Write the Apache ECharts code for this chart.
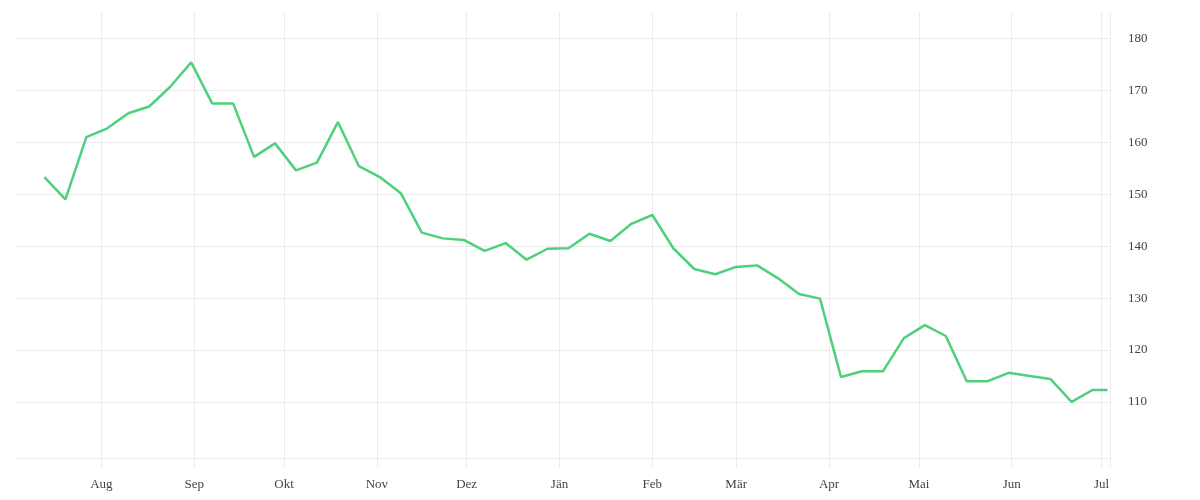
<!DOCTYPE html>
<html>
<head>
<meta charset="utf-8">
<script src="https://cdn.jsdelivr.net/npm/echarts@6/dist/echarts.min.js"></script>
<style>
html,body{margin:0;padding:0;background:#fff;}
#chart{width:1200px;height:500px;}
</style>
</head>
<body>
<div id="chart"></div>
<script>
const dates = [
  '2022-07-13','2022-07-20','2022-07-27','2022-08-03','2022-08-10','2022-08-17','2022-08-24','2022-08-31',
  '2022-09-07','2022-09-14','2022-09-21','2022-09-28','2022-10-05','2022-10-12','2022-10-19','2022-10-26',
  '2022-11-02','2022-11-09','2022-11-16','2022-11-23','2022-11-30','2022-12-07','2022-12-14','2022-12-21',
  '2022-12-28','2023-01-04','2023-01-11','2023-01-18','2023-01-25','2023-02-01','2023-02-08','2023-02-15',
  '2023-02-22','2023-03-01','2023-03-08','2023-03-15','2023-03-22','2023-03-29','2023-04-05','2023-04-12',
  '2023-04-19','2023-04-26','2023-05-03','2023-05-10','2023-05-17','2023-05-24','2023-05-31','2023-06-07',
  '2023-06-14','2023-06-21','2023-06-28','2023-07-03'
];
const values = [
  153.3,149.0,161.0,162.7,165.6,166.9,170.7,175.4,
  167.5,167.5,157.2,159.8,154.6,156.1,163.9,155.4,
  153.3,150.2,142.6,141.5,141.2,139.1,140.6,137.4,
  139.5,139.6,142.4,141.0,144.3,146.0,139.6,135.6,
  134.6,136.0,136.3,133.8,130.8,129.9,114.8,115.9,
  115.9,122.3,124.8,122.7,114.0,114.0,115.6,115.0,
  114.4,110.0,112.3,112.3
];
const monthTicks = [
  '2022-08-01','2022-09-01','2022-10-01','2022-11-01','2022-12-01','2023-01-01',
  '2023-02-01','2023-03-01','2023-04-01','2023-05-01','2023-06-01','2023-07-01'
];
const monthNames = ['Jän','Feb','Mär','Apr','Mai','Jun','Jul','Aug','Sep','Okt','Nov','Dez'];
const yTicks = [110,120,130,140,150,160,170,180];

function parseLocal(s){
  const p = s.split('-').map(Number);
  return new Date(p[0], p[1]-1, p[2]).getTime();
}
const xMin = new Date(2022,6,3,12).getTime();
const xMax = new Date(2023,6,3,20).getTime();
const monthVals = monthTicks.map(parseLocal);
const seriesData = dates.map((d,i)=>[parseLocal(d), values[i]]);

const gridColor = '#ebebeb';
const labelFont = {fontFamily:'Liberation Serif', fontSize:13, color:'#444'};

const chart = echarts.init(document.getElementById('chart'), null, {renderer:'canvas'});
chart.setOption({
  animation:false,
  backgroundColor:'#fff',
  grid:{left:16, right:90, top:12, bottom:42, containLabel:false},
  xAxis:{
    type:'value',
    min:xMin, max:xMax,
    axisLine:{show:true, lineStyle:{color:gridColor, width:1}},
    axisTick:{show:true, length:10, lineStyle:{color:gridColor, width:1}, customValues: monthVals.concat([xMax])},
    splitLine:{show:true, lineStyle:{color:gridColor, width:1}},
    axisLabel:Object.assign({
      margin:20,
      customValues: monthVals,
      formatter:function(v){ return monthNames[new Date(v).getMonth()]; }
    }, labelFont)
  },
  yAxis:{
    type:'value',
    position:'right',
    min:99.2, max:185.1,
    axisLine:{show:false},
    axisTick:{show:false, customValues: yTicks},
    splitLine:{show:true, lineStyle:{color:gridColor, width:1}},
    axisLabel:Object.assign({
      margin:18,
      padding:[4,0,0,0],
      customValues: yTicks
    }, labelFont)
  },
  series:[{
    type:'line',
    data:seriesData,
    showSymbol:false,
    symbol:'none',
    lineStyle:{color:'#4ed07c', width:2.5},
    itemStyle:{color:'#4ed07c'}
  }]
});
</script>
</body>
</html>
